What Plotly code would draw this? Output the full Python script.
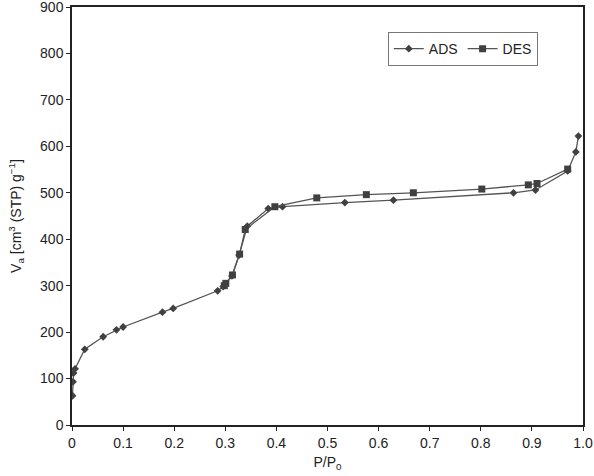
import plotly.graph_objects as go

ads_x = [0.001, 0.002, 0.003, 0.006, 0.025, 0.061, 0.087, 0.100, 0.177, 0.198,
         0.285, 0.296, 0.313, 0.327, 0.343, 0.384, 0.412, 0.534, 0.629, 0.864,
         0.907, 0.970, 0.986, 0.991]
ads_y = [63, 93, 112, 121, 163, 190, 205, 211, 243, 251,
         289, 298, 321, 366, 428, 466, 470, 479, 484, 500,
         506, 547, 588, 622]

des_x = [0.970, 0.910, 0.893, 0.802, 0.668, 0.576, 0.479, 0.397, 0.339, 0.328,
         0.314, 0.301, 0.298]
des_y = [551, 520, 517, 508, 500, 496, 489, 470, 421, 368,
         323, 305, 300]

x_ticks = [0, 0.1, 0.2, 0.3, 0.4, 0.5, 0.6, 0.7, 0.8, 0.9, 1.0]
x_labels = ["0", "0.1", "0.2", "0.3", "0.4", "0.5", "0.6", "0.7", "0.8", "0.9", "1.0"]
y_ticks = [0, 100, 200, 300, 400, 500, 600, 700, 800, 900]

font = "Liberation Sans, Arial, sans-serif"

fig = go.Figure()
fig.add_trace(go.Scatter(
    x=ads_x, y=ads_y, name="ADS", mode="lines+markers",
    line=dict(color="#555555", width=1.3),
    marker=dict(symbol="diamond", size=6, color="#404040"),
))
fig.add_trace(go.Scatter(
    x=des_x, y=des_y, name="DES", mode="lines+markers",
    line=dict(color="#555555", width=1.3),
    marker=dict(symbol="square", size=7, color="#404040"),
))

fig.update_layout(
    width=594, height=476,
    margin=dict(l=72, r=11, t=7, b=51),
    paper_bgcolor="white", plot_bgcolor="white",
    font=dict(family=font, size=14, color="#222222"),
    showlegend=True,
    legend=dict(
        orientation="h", x=0.618, y=0.940, xanchor="left", yanchor="top",
        bordercolor="#777777", borderwidth=1, bgcolor="white",
        font=dict(size=14, color="#222222"),
        itemwidth=30,
    ),
    xaxis=dict(
        range=[0, 1.0], tickvals=x_ticks, ticktext=x_labels,
        showgrid=False, zeroline=False, automargin=False,
        ticklabeloverflow="allow",
        showline=True, linecolor="#222222", linewidth=1.5, mirror=True,
        ticks="outside", ticklen=4, tickcolor="#222222",
        tickfont=dict(size=14, color="#222222"),
        title=dict(text="P/P<sub>0</sub>", standoff=8,
                   font=dict(size=14, color="#222222")),
    ),
    yaxis=dict(
        range=[0, 900], tickvals=y_ticks,
        showgrid=False, zeroline=False, automargin=False,
        ticklabeloverflow="allow",
        showline=True, linecolor="#222222", linewidth=1.5, mirror=True,
        ticks="outside", ticklen=4, tickcolor="#222222",
        tickfont=dict(size=14, color="#222222"),
        title=dict(text="V<sub>a</sub> [cm<sup>3</sup> (STP) g<sup>−1</sup>]",
                   standoff=15, font=dict(size=14, color="#222222")),
    ),
)

fig.write_html("out.html", config={"displayModeBar": False},
               post_script="document.body.style.margin='0';")
